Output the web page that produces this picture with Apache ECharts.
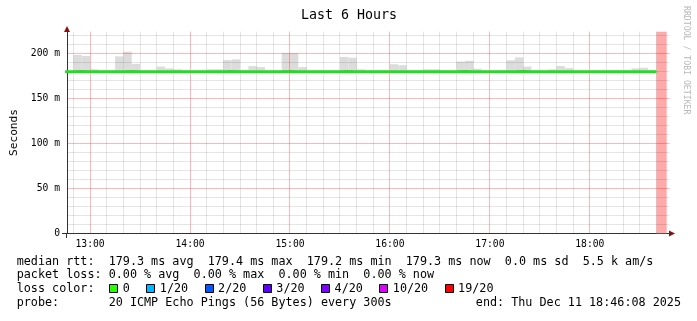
<!DOCTYPE html>
<html><head><meta charset="utf-8">
<script src="https://cdn.jsdelivr.net/npm/echarts@6/dist/echarts.min.js"></script>
<style>html,body{margin:0;padding:0;background:#fff}#c{width:697px;height:321px}</style>
</head><body><div id="c"></div>
<script>
// ---------------- data ----------------
const chartTitle = 'Last 6 Hours';
const axisStart = '12:46:08';
const axisEnd = '18:46:08';
const xTickLabels = ['13:00', '14:00', '15:00', '16:00', '17:00', '18:00'];
const yTickValues = [0, 50, 100, 150, 200];
const yTickLabels = ['0', '50 m', '100 m', '150 m', '200 m'];
const yMax = 223.7;
const yAxisName = 'Seconds';

// 5-minute buckets starting 12:45
const bucketFirst = '12:45';
const bucketMinutes = 5;
// smoke (ping spread) upper edge per bucket, ms
const smokeHigh = [
  180.5, 197.8, 196.7, 182.0, 180.5, 180.5, 196.3, 201.5, 188.0, 180.5,
  180.5, 185.0, 183.0, 182.0, 180.5, 180.5, 180.5, 182.0, 182.0, 192.2,
  193.0, 181.0, 185.5, 184.4, 180.5, 180.5, 200.0, 200.0, 184.4, 180.5,
  180.5, 180.5, 180.5, 195.6, 194.8, 182.0, 180.5, 180.5, 181.0, 187.6,
  186.5, 180.5, 180.5, 182.0, 182.0, 180.5, 180.5, 190.5, 191.5, 182.6,
  180.5, 180.5, 180.5, 192.0, 195.2, 185.0, 180.5, 180.5, 182.0, 185.6,
  183.3, 180.5, 180.5, 180.5, 180.5, 180.5, 180.5, 180.5, 183.0, 183.7,
  180.5
];
// smoke lower edge per bucket, ms
const smokeLow = [
  179.0, 179.0, 179.0, 179.0, 179.0, 179.0, 179.0, 179.0, 179.0, 179.0,
  179.0, 179.0, 179.0, 179.0, 179.0, 179.0, 179.0, 179.0, 179.0, 179.0,
  179.0, 179.0, 179.0, 179.0, 179.0, 179.0, 179.0, 179.0, 179.0, 179.0,
  179.0, 179.0, 179.0, 179.0, 179.0, 179.0, 179.0, 179.0, 179.0, 179.0,
  179.0, 179.0, 179.0, 179.0, 179.0, 179.0, 179.0, 179.0, 179.0, 179.0,
  179.0, 179.0, 179.0, 179.0, 179.0, 179.0, 179.0, 179.0, 179.0, 179.0,
  179.0, 179.0, 179.0, 179.0, 179.0, 179.0, 179.0, 179.0, 179.0, 179.0,
  179.0
];
// median rtt per bucket, ms
const medianRtt = [
  179.3, 179.4, 179.3, 179.3, 179.2, 179.3, 179.3, 179.4, 179.3, 179.3,
  179.2, 179.3, 179.3, 179.3, 179.3, 179.2, 179.3, 179.3, 179.3, 179.4,
  179.3, 179.3, 179.3, 179.2, 179.3, 179.3, 179.4, 179.3, 179.3, 179.3,
  179.3, 179.2, 179.3, 179.4, 179.3, 179.3, 179.3, 179.3, 179.2, 179.3,
  179.3, 179.3, 179.3, 179.3, 179.3, 179.2, 179.3, 179.4, 179.3, 179.3,
  179.3, 179.3, 179.2, 179.3, 179.4, 179.3, 179.3, 179.3, 179.3, 179.3,
  179.3, 179.3, 179.2, 179.3, 179.3, 179.3, 179.3, 179.3, 179.3, 179.3,
  179.3
];
// period with no data (drawn full height)
const unknownFrom = '18:40';
const unknownTo = '18:46:08';

const statsLine1 = 'median rtt:  179.3 ms avg  179.4 ms max  179.2 ms min  179.3 ms now  0.0 ms sd  5.5 k am/s';
const statsLine2 = 'packet loss: 0.00 % avg  0.00 % max  0.00 % min  0.00 % now';
const lossTitle = 'loss color:';
const lossLabels = ['0', '1/20', '2/20', '3/20', '4/20', '10/20', '19/20'];
const lossColors = ['#26ff00', '#00b8ff', '#0059ff', '#5e00ff', '#7e00ff', '#dd00ff', '#ff0000'];
const probeLine = 'probe:       20 ICMP Echo Pings (56 Bytes) every 300s';
const endLine = 'end: Thu Dec 11 18:46:08 2025';
const watermark = 'RRDTOOL / TOBI OETIKER';

// ---------------- helpers ----------------
function tm(s) { const p = s.split(':').map(Number); return p[0] * 60 + p[1] + (p[2] || 0) / 60; }
function fmt(m) { const h = Math.floor(m / 60), mm = Math.round(m - h * 60); return (h < 10 ? '0' : '') + h + ':' + (mm < 10 ? '0' : '') + mm; }

const xMin = tm(axisStart), xMax = tm(axisEnd);
const b0 = tm(bucketFirst);
const smokeData = smokeHigh.map((v, i) => [b0 + i * bucketMinutes, b0 + (i + 1) * bucketMinutes, smokeLow[i], v]);
const medianData = medianRtt.map((v, i) => [b0 + i * bucketMinutes, v]);
medianData.push([b0 + medianRtt.length * bucketMinutes, medianRtt[medianRtt.length - 1]]);
const unknownData = [[tm(unknownFrom), tm(unknownTo), 0, yMax]];
const xTickValues = xTickLabels.map(tm);

// grid lines (axis decoration)
const gridV = [], gridH = [];
for (let m = Math.ceil(xMin / 10) * 10; m < xMax; m += 10) gridV.push([m, m % 60 === 0 ? 1 : 0]);
for (let v = 10; v < yMax; v += 10) gridH.push([v, v % 50 === 0 ? 1 : 0]);

const MONO = '"DejaVu Sans Mono", monospace';
const chart = echarts.init(document.getElementById('c'), null, { renderer: 'canvas' });

function rectRender(color) {
  return function (params, api) {
    const p0 = api.coord([api.value(0), api.value(3)]);
    const p1 = api.coord([api.value(1), api.value(2)]);
    const cs = params.coordSys;
    const r = echarts.graphic.clipRectByRect(
      { x: p0[0], y: p0[1], width: p1[0] - p0[0], height: p1[1] - p0[1] },
      { x: cs.x, y: cs.y, width: cs.width, height: cs.height });
    if (!r) return;
    return { type: 'rect', shape: r, style: { fill: color } };
  };
}

const graphics = [];
graphics.push({ type: 'text', x: 349, y: 16, style: { text: chartTitle, font: '13.3px ' + MONO, fill: '#000', align: 'center', verticalAlign: 'middle' } });
graphics.push({ type: 'text', x: 16.7, y: 261.7, style: { text: statsLine1, font: '11.75px ' + MONO, fill: '#000', verticalAlign: 'middle' } });
graphics.push({ type: 'text', x: 16.7, y: 275.3, style: { text: statsLine2, font: '11.75px ' + MONO, fill: '#000', verticalAlign: 'middle' } });
graphics.push({ type: 'text', x: 16.7, y: 289.3, style: { text: lossTitle, font: '11.75px ' + MONO, fill: '#000', verticalAlign: 'middle' } });
graphics.push({ type: 'text', x: 16.7, y: 303.3, style: { text: probeLine, font: '11.75px ' + MONO, fill: '#000', verticalAlign: 'middle' } });
graphics.push({ type: 'text', x: 681, y: 303.3, style: { text: endLine, font: '11.75px ' + MONO, fill: '#000', align: 'right', verticalAlign: 'middle' } });
let sx = 109.3;
lossLabels.forEach((lab, i) => {
  const rx = Math.round(sx);
  graphics.push({ type: 'rect', shape: { x: rx + 0.5, y: 284.5, width: 8, height: 8 }, style: { fill: lossColors[i], stroke: '#000', lineWidth: 1 } });
  graphics.push({ type: 'text', x: sx + 13.5, y: 289.3, style: { text: lab, font: '11.75px ' + MONO, fill: '#000', verticalAlign: 'middle' } });
  sx += 13 + lab.length * 7.06 + 17;
});
graphics.push({ type: 'text', x: 686, y: 6, rotation: -Math.PI / 2, style: { text: watermark, font: '8.2px ' + MONO, fill: '#b8b8b8', align: 'left', verticalAlign: 'middle' } });
// axis arrows
graphics.push({ type: 'polygon', shape: { points: [[67, 26], [64, 32], [70, 32]] }, style: { fill: '#8b1010' } });
graphics.push({ type: 'polygon', shape: { points: [[675, 233.5], [669, 230.5], [669, 236.5]] }, style: { fill: '#8b1010' } });
// little axis extensions
graphics.push({ type: 'line', shape: { x1: 62, y1: 233.5, x2: 67, y2: 233.5 }, style: { stroke: '#333', lineWidth: 1 } });
graphics.push({ type: 'line', shape: { x1: 66.5, y1: 233, x2: 66.5, y2: 238 }, style: { stroke: '#333', lineWidth: 1 } });
graphics.push({ type: 'line', shape: { x1: 666, y1: 233.5, x2: 670, y2: 233.5 }, style: { stroke: '#333', lineWidth: 1 } });

const option = {
  animation: false,
  backgroundColor: '#fff',
  grid: { left: 67, right: 30.3, top: 31.67, bottom: 87.67, containLabel: false, outerBoundsMode: 'none' },
  xAxis: {
    type: 'value', min: xMin, max: xMax,
    axisLine: { show: true, onZero: false, lineStyle: { color: '#333', width: 1 } },
    axisTick: { show: false },
    splitLine: { show: false },
    axisLabel: { customValues: xTickValues, formatter: v => fmt(v), fontFamily: MONO, fontSize: 9.7, color: '#000', margin: 6 }
  },
  yAxis: {
    type: 'value', min: 0, max: yMax,
    name: yAxisName, nameLocation: 'middle', nameGap: 46.5, nameRotate: 90,
    nameTextStyle: { fontFamily: MONO, fontSize: 11.2, color: '#000' },
    axisLine: { show: true, lineStyle: { color: '#333', width: 1 } },
    axisTick: { show: false },
    splitLine: { show: false },
    axisLabel: { customValues: yTickValues, formatter: v => yTickLabels[yTickValues.indexOf(Math.round(v))] ?? '', fontFamily: MONO, fontSize: 9.7, color: '#000', margin: 7 }
  },
  series: [
    { type: 'custom', name: 'smoke', z: 1, data: smokeData, encode: { x: [0, 1], y: [2, 3] }, renderItem: rectRender('#dcdcdc'), silent: true },
    { type: 'custom', name: 'unknown', z: 1, data: unknownData, encode: { x: [0, 1], y: [2, 3] }, renderItem: rectRender('#ffaaaa'), silent: true },
    { type: 'custom', name: 'gridV', z: 2, silent: true, data: gridV, encode: { x: 0 },
      renderItem: function (params, api) {
        const p = api.coord([api.value(0), 0]);
        const cs = params.coordSys;
        const x = Math.floor(p[0]) + 0.5;
        return { type: 'line', shape: { x1: x, y1: cs.y, x2: x, y2: cs.y + cs.height }, style: { stroke: api.value(1) ? 'rgba(255,0,0,0.28)' : 'rgba(0,0,0,0.1)', lineWidth: 1 } };
      } },
    { type: 'custom', name: 'gridH', z: 2, silent: true, data: gridH, encode: { y: 0 },
      renderItem: function (params, api) {
        const p = api.coord([xMin, api.value(0)]);
        const cs = params.coordSys;
        const y = Math.floor(p[1]) + 0.5;
        return { type: 'line', shape: { x1: cs.x, y1: y, x2: cs.x + cs.width + 3, y2: y }, style: { stroke: api.value(1) ? 'rgba(255,0,0,0.28)' : 'rgba(0,0,0,0.1)', lineWidth: 1 } };
      } },
    { type: 'line', name: 'median', z: 3, data: medianData, step: 'end', showSymbol: false, silent: true,
      lineStyle: { color: '#22dd22', width: 3 } }
  ],
  graphic: graphics
};
chart.setOption(option);
</script>
</body></html>
